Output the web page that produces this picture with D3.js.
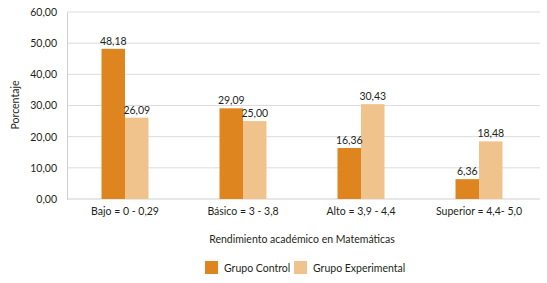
<!DOCTYPE html>
<html>
<head>
<meta charset="utf-8">
<script src="https://cdn.jsdelivr.net/npm/d3@7"></script>
<style>
  body { margin: 0; background: #fff; }
  text { font-family: Lato, sans-serif; fill: #231f20; }
</style>
</head>
<body>
<svg id="chart" width="547" height="283"></svg>
<script>
// data
var categories = ["Bajo = 0 - 0,29", "Básico = 3 - 3,8", "Alto = 3,9 - 4,4", "Superior = 4,4- 5,0"];
var series = ["Grupo Control", "Grupo Experimental"];
var control = [48.18, 29.09, 16.36, 6.36];
var experimental = [26.09, 25.00, 30.43, 18.48];
var yTicks = [0, 10, 20, 30, 40, 50, 60];
var colors = ["#df8520", "#f0c38c"];

var es = d3.formatLocale({ decimal: ",", thousands: ".", grouping: [3], currency: ["", ""] });
var fmt = es.format(".2f");

var svg = d3.select("#chart");

var x = d3.scaleBand().domain(categories).range([66, 538]);
var x1 = d3.scaleBand().domain(series).range([0, 47]);
var y = d3.scaleLinear().domain([0, 60]).range([199, 12]);

// gridlines
svg.append("g")
  .selectAll("line")
  .data(yTicks.slice(1))
  .enter()
  .append("line")
  .attr("x1", 67)
  .attr("x2", 540)
  .attr("y1", function (d) { return y(d); })
  .attr("y2", function (d) { return y(d); })
  .attr("stroke", "#dcdcdc")
  .attr("stroke-width", 1);

// y axis
var yAxis = svg.append("g")
  .attr("transform", "translate(67,0)")
  .call(d3.axisLeft(y).tickValues(yTicks).tickFormat(fmt).tickSize(0).tickPadding(10));
yAxis.select(".domain").attr("stroke", "#cfcfcf");
yAxis.selectAll("text").style("font-size", "10.5px").attr("fill", "#231f20");

// bottom axis line
svg.append("line")
  .attr("x1", 67).attr("x2", 540)
  .attr("y1", y(0)).attr("y2", y(0))
  .attr("stroke", "#cfcfcf");

// x labels
var xAxis = svg.append("g")
  .attr("transform", "translate(0," + y(0) + ")")
  .call(d3.axisBottom(x).tickSize(0).tickPadding(9));
xAxis.select(".domain").remove();
xAxis.selectAll("text").style("font-size", "10.5px").attr("fill", "#231f20");

// bars
var rows = categories.map(function (c, i) {
  return { cat: c, vals: [control[i], experimental[i]] };
});

var groups = svg.selectAll(".grp")
  .data(rows)
  .enter()
  .append("g")
  .attr("transform", function (d) { return "translate(" + (x(d.cat) + x.bandwidth() / 2 - 23.5) + ",0)"; });

groups.selectAll("rect")
  .data(function (d) { return d.vals.map(function (v, j) { return { s: series[j], v: v, j: j }; }); })
  .enter()
  .append("rect")
  .attr("x", function (d) { return x1(d.s); })
  .attr("y", function (d) { return y(d.v); })
  .attr("width", x1.bandwidth())
  .attr("height", function (d) { return y(0) - y(d.v); })
  .attr("fill", function (d) { return colors[d.j]; });

groups.selectAll(".lbl")
  .data(function (d) { return d.vals.map(function (v, j) { return { s: series[j], v: v }; }); })
  .enter()
  .append("text")
  .attr("x", function (d) { return x1(d.s) + x1.bandwidth() / 2; })
  .attr("y", function (d) { return y(d.v) - 4; })
  .attr("text-anchor", "middle")
  .style("font-size", "10.5px")
  .text(function (d) { return fmt(d.v); });

// axis titles
svg.append("text")
  .attr("transform", "translate(19,105) rotate(-90)")
  .attr("text-anchor", "middle")
  .style("font-size", "10.5px")
  .text("Porcentaje");

svg.append("text")
  .attr("x", 302)
  .attr("y", 243)
  .attr("text-anchor", "middle")
  .style("font-size", "10.5px")
  .text("Rendimiento académico en Matemáticas");

// legend
var legX = [205, 294];
var leg = svg.selectAll(".leg")
  .data(series)
  .enter()
  .append("g")
  .attr("transform", function (d, i) { return "translate(" + legX[i] + ",261)"; });
leg.append("rect")
  .attr("width", 13).attr("height", 13)
  .attr("fill", function (d, i) { return colors[i]; });
leg.append("text")
  .attr("x", 19).attr("y", 10.5)
  .style("font-size", "10.5px")
  .text(function (d) { return d; });
</script>
</body>
</html>
